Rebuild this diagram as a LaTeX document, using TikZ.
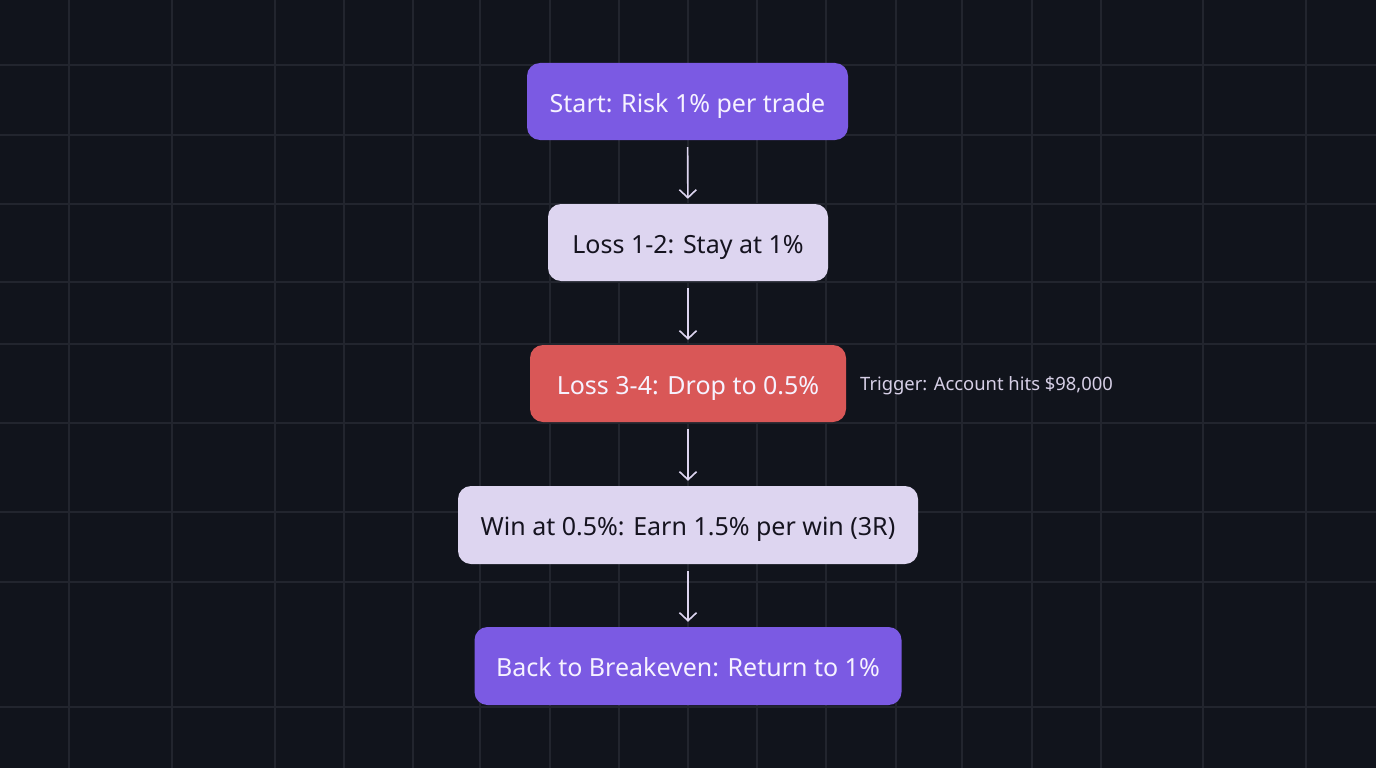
\documentclass[tikz,border=0pt]{standalone}
\usepackage{fontspec}
\setmainfont{Noto Sans}
\usetikzlibrary{arrows.meta}
\definecolor{bg}{HTML}{11141C}
\definecolor{gridc}{HTML}{22252E}
\definecolor{purp}{HTML}{7B5AE3}
\definecolor{lav}{HTML}{DDD5F0}
\definecolor{redc}{HTML}{D95757}
\definecolor{darktxt}{HTML}{15131F}
\definecolor{lighttxt}{HTML}{F6F2FF}
\definecolor{arrowc}{HTML}{DDD5F0}
\definecolor{notec}{HTML}{D6CFE6}
\tikzset{
  box/.style={rounded corners=13pt, minimum height=77pt, inner sep=0pt,
    text height=21pt, text depth=0pt,
    font=\fontsize{25}{29}\selectfont, anchor=center},
  purplebox/.style={box, fill=purp, text=lighttxt},
  lavbox/.style={box, fill=lav, text=darktxt},
  redbox/.style={box, fill=redc, text=lighttxt},
  flow/.style={draw=arrowc, line width=1.6pt, -{Straight Barb[length=8pt,width=17pt,line width=1.6pt]},
    shorten <=7pt, shorten >=5pt},
  gridline/.style={draw=gridc, line width=1.1pt}
}
\begin{document}
\begin{tikzpicture}[x=1pt,y=-1pt]
\fill[bg] (0,0) rectangle (1376,768);
\useasboundingbox (0,0) rectangle (1376,768);
\foreach \x in {69,172,275,344,413,480,550,619,688,757,826,896,962,1032,1101,1203,1306}
  \draw[gridline] (\x,0) -- (\x,768);
\foreach \y in {65,135,204,282,344,423,512,582,707}
  \draw[gridline] (0,\y) -- (1376,\y);

\node[purplebox, minimum width=321pt] (n1) at (687.5,101.5) {Start: Risk 1\% per trade};
\node[lavbox, minimum width=280pt] (n2) at (688,242.5) {Loss 1-2: Stay at 1\%};
\node[redbox, minimum width=316pt] (n3) at (688,383.5) {Loss 3-4: Drop to 0.5\%};
\node[lavbox, minimum width=460pt, minimum height=78pt] (n4) at (688,525) {Win at 0.5\%: Earn 1.5\% per win (3R)};
\node[purplebox, minimum width=427pt, minimum height=78pt] (n5) at (688,666) {Back to Breakeven: Return to 1\%};

\node[anchor=west, text=notec, font=\fontsize{18.4}{22}\selectfont, inner sep=0pt] (note) at (860,386) {Trigger: Account hits \$98,000};

\draw[flow] (n1) -- (n2);
\draw[flow] (n2) -- (n3);
\draw[flow] (n3) -- (n4);
\draw[flow] (n4) -- (n5);
\end{tikzpicture}
\end{document}
